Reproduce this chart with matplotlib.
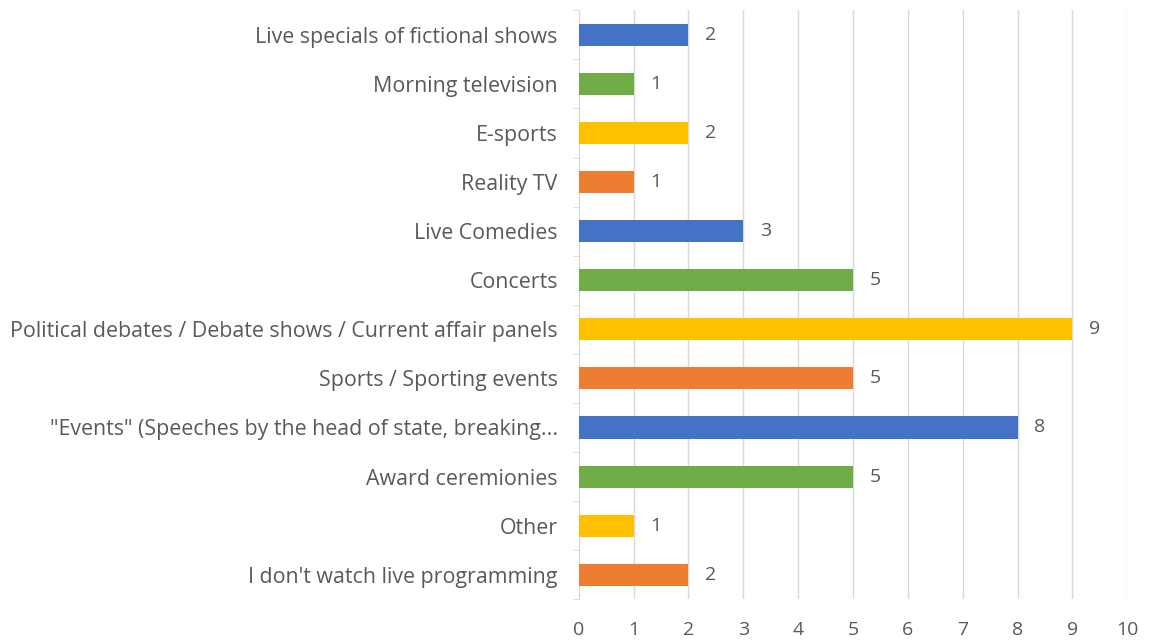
import matplotlib
matplotlib.use('Agg')
import matplotlib.pyplot as plt
import numpy as np

plt.rcParams['font.family'] = ['Open Sans', 'DejaVu Sans']

categories = [
    "I don't watch live programming",
    "Other",
    "Award ceremionies",
    "\"Events\" (Speeches by the head of state, breaking...",
    "Sports / Sporting events",
    "Political debates / Debate shows / Current affair panels",
    "Concerts",
    "Live Comedies",
    "Reality TV",
    "E-sports",
    "Morning television",
    "Live specials of fictional shows",
]
values = [2, 1, 5, 8, 5, 9, 5, 3, 1, 2, 1, 2]
palette = ['#ED7D31', '#FFC000', '#70AD47', '#4472C4']

fig = plt.figure(figsize=(11.55, 6.43), dpi=100)
ax = fig.add_axes([0.501, 0.068, 0.475, 0.916])

y = np.arange(len(categories))
colors = [palette[i % 4] for i in range(len(categories))]
ax.barh(y, values, height=0.45, color=colors, zorder=3)

text_color = '#595959'
for yi, v in zip(y, values):
    ax.text(v + 0.3, yi, str(v), va='center', ha='left', fontsize=14, color=text_color)

ax.set_xlim(0, 10)
ax.set_ylim(-0.5, len(categories) - 0.5)
ax.set_xticks(range(0, 11))
ax.set_yticks(y)
ax.set_yticklabels(categories)
ax.xaxis.grid(True, color='#d9d9d9', linewidth=1, zorder=0)
for s in ['top', 'right', 'bottom']:
    ax.spines[s].set_visible(False)
ax.spines['left'].set_color('#d9d9d9')
ax.tick_params(axis='x', length=0, labelsize=14, labelcolor=text_color, pad=16)
ax.tick_params(axis='y', length=0, labelsize=15.4, labelcolor=text_color, pad=15)
ax.set_yticks(np.arange(-0.5, len(categories), 1), minor=True)
ax.tick_params(axis='y', which='minor', length=4, color='#d9d9d9')

fig.savefig('out.png', dpi=100)
